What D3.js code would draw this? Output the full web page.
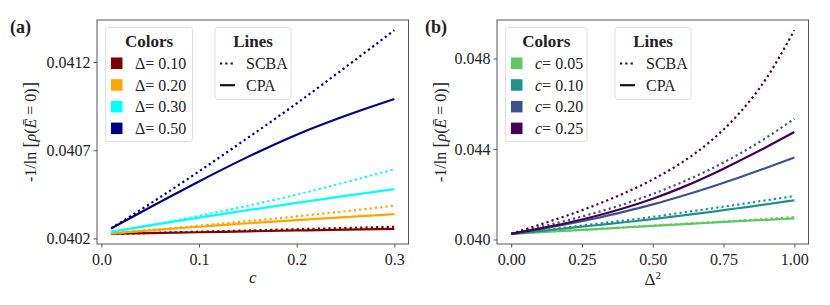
<!DOCTYPE html>
<html>
<head>
<meta charset="utf-8">
<script src="https://cdn.jsdelivr.net/npm/d3@7"></script>
<style>
  body { margin: 0; background: #fff; }
  svg text { font-family: "Liberation Serif", "Times New Roman", Times, "DejaVu Serif", serif; fill: #222; }
</style>
</head>
<body>
<script>
// ---- panel (a): y vs c, one colour per disorder strength
const cValues = [0.01, 0.05, 0.1, 0.15, 0.2, 0.25, 0.3];
const deltaLabels = ['0.10', '0.20', '0.30', '0.50'];
const deltaColors = ['#800000', '#ffa500', '#00ffff', '#000080'];
const scbaA = [
  [0.040226, 0.040231, 0.040238, 0.040245, 0.040252, 0.040259, 0.040266],
  [0.040228, 0.040248, 0.040272, 0.040298, 0.040325, 0.040354, 0.040385],
  [0.040237, 0.040275, 0.040328, 0.040385, 0.040448, 0.040518, 0.040592],
  [0.040257, 0.040397, 0.040580, 0.040770, 0.040965, 0.041170, 0.041380],
];
const cpaA = [
  [0.040226, 0.040230, 0.040235, 0.040240, 0.040245, 0.040250, 0.040254],
  [0.040228, 0.040246, 0.040266, 0.040286, 0.040304, 0.040321, 0.040338],
  [0.040237, 0.040274, 0.040318, 0.040360, 0.040401, 0.040441, 0.040479],
  [0.040257, 0.040377, 0.040523, 0.040662, 0.040788, 0.040895, 0.040990],
];
const xTicksA = [0.0, 0.1, 0.2, 0.3];
const yTicksA = [0.0402, 0.0407, 0.0412];

// ---- panel (b): y vs Delta^2, one colour per concentration
const d2Values = [0, 0.1, 0.2, 0.3, 0.4, 0.5, 0.6, 0.7, 0.8, 0.9, 1.0];
const cLabels = ['0.05', '0.10', '0.20', '0.25'];
const cColors = ['#5ec962', '#21918c', '#3b528b', '#440154'];
const scbaB = [
  [0.04025, 0.04032, 0.04039, 0.04046, 0.04054, 0.04061, 0.04069, 0.04076, 0.04083, 0.04091, 0.04099],
  [0.04025, 0.04039, 0.04054, 0.04069, 0.04084, 0.04100, 0.04118, 0.04136, 0.04154, 0.04173, 0.04192],
  [0.04025, 0.04054, 0.04085, 0.04119, 0.04157, 0.04201, 0.04251, 0.04308, 0.04374, 0.04449, 0.04534],
  [0.04025, 0.04065, 0.04107, 0.04153, 0.04205, 0.04265, 0.04338, 0.04430, 0.04550, 0.04710, 0.04925],
];
const cpaB = [
  [0.04025, 0.04032, 0.04039, 0.04046, 0.04053, 0.04060, 0.04067, 0.04074, 0.04081, 0.04087, 0.04093],
  [0.04025, 0.04037, 0.04050, 0.04063, 0.04076, 0.04090, 0.04105, 0.04121, 0.04138, 0.04155, 0.04173],
  [0.04025, 0.04046, 0.04069, 0.04094, 0.04123, 0.04155, 0.04191, 0.04230, 0.04272, 0.04316, 0.04362],
  [0.04025, 0.04048, 0.04074, 0.04104, 0.04139, 0.04180, 0.04228, 0.04283, 0.04344, 0.04408, 0.04475],
];
const xTicksB = [0, 0.25, 0.5, 0.75, 1.0];
const yTicksB = [0.040, 0.044, 0.048];

const W = 830, H = 305;
const LW = 2.2;
const DOTS = '2.2,3.1';

const svg = d3.select('body').append('svg').attr('width', W).attr('height', H);

// matplotlib-style 5% margins
const padded = (lo, hi) => {
  const m = (hi - lo) * 0.05;
  return [lo - m, hi + m];
};

const drawPanel = (cfg) => {
  const g = svg.append('g');
  const x = d3.scaleLinear().domain(padded(d3.min(cfg.xs), d3.max(cfg.xs))).range([cfg.left, cfg.right]);
  const all = cfg.scba.flat().concat(cfg.cpa.flat());
  const y = d3.scaleLinear().domain(padded(d3.min(all), d3.max(all))).range([cfg.bottom, cfg.top]);

  const line = (vals) => d3.line()
    .x((d, i) => x(cfg.xs[i]))
    .y((d) => y(d))
    .curve(d3.curveMonotoneX)(vals);

  // lines (low to high so the darker ones end up on top)
  cfg.colors.forEach((col, k) => {
    g.append('path').attr('d', line(cfg.cpa[k])).attr('fill', 'none')
      .attr('stroke', col).attr('stroke-width', LW);
    g.append('path').attr('d', line(cfg.scba[k])).attr('fill', 'none')
      .attr('stroke', col).attr('stroke-width', LW).attr('stroke-dasharray', DOTS);
  });

  // axes
  const xAxis = d3.axisBottom(x).tickValues(cfg.xTicks).tickFormat(cfg.xFmt).tickSize(3.5).tickPadding(3);
  const yAxis = d3.axisLeft(y).tickValues(cfg.yTicks).tickFormat(cfg.yFmt).tickSize(3.5).tickPadding(3);
  const ax = g.append('g').attr('transform', `translate(0,${cfg.bottom})`).call(xAxis);
  const ay = g.append('g').attr('transform', `translate(${cfg.left},0)`).call(yAxis);
  [ax, ay].forEach((a) => {
    a.select('.domain').remove();
    a.attr('font-family', null);
    a.selectAll('line').attr('stroke', '#444').attr('stroke-width', 0.9);
    a.selectAll('text').attr('font-size', 16).attr('fill', '#222');
  });
  ax.selectAll('text').attr('dy', '0.9em');

  g.append('rect').attr('x', cfg.left).attr('y', cfg.top)
    .attr('width', cfg.right - cfg.left).attr('height', cfg.bottom - cfg.top)
    .attr('fill', 'none').attr('stroke', '#555').attr('stroke-width', 1);

  // panel letter
  g.append('text').attr('x', cfg.letterX).attr('y', 33).attr('font-size', 18)
    .attr('font-weight', 'bold').text(cfg.letter);

  // y label
  const yl = g.append('text')
    .attr('transform', `translate(${cfg.ylabX},${(cfg.top + cfg.bottom) / 2}) rotate(-90)`)
    .attr('text-anchor', 'middle').attr('font-size', 16);
  yl.append('tspan').text('-1/ln ');
  yl.append('tspan').attr('font-size', 19).text('[');
  yl.append('tspan').attr('font-style', 'italic').text('ρ');
  yl.append('tspan').text('(');
  yl.append('tspan').attr('font-style', 'italic').text('Ē');
  yl.append('tspan').text(' = 0)');
  yl.append('tspan').attr('font-size', 19).text(']');

  // x label
  const xl = g.append('text').attr('x', (cfg.left + cfg.right) / 2).attr('y', cfg.xlabY)
    .attr('text-anchor', 'middle').attr('font-size', 17);
  cfg.xlab(xl);

  // colors legend
  const cl = g.append('g').attr('transform', `translate(${cfg.left + 8.5},27.5)`);
  cl.append('rect').attr('width', cfg.colW).attr('height', 114).attr('rx', 3)
    .attr('fill', 'rgba(255,255,255,0.85)').attr('stroke', '#d6d6d6').attr('stroke-width', 0.8);
  cl.append('text').attr('x', cfg.colW / 2).attr('y', 19.5).attr('text-anchor', 'middle')
    .attr('font-size', 17).attr('font-weight', 'bold').text('Colors');
  cfg.colors.forEach((col, k) => {
    const cy = 36 + k * 21.7;
    cl.append('rect').attr('x', 5.5).attr('y', cy - 6).attr('width', 11.5).attr('height', 11.5)
      .attr('fill', col);
    const t = cl.append('text').attr('x', 29.5).attr('y', cy + 5.5).attr('font-size', 16);
    cfg.entry(t, cfg.labels[k]);
  });

  // lines legend
  const ll = g.append('g').attr('transform', `translate(${cfg.left + cfg.linesOff},27.5)`);
  ll.append('rect').attr('width', 76).attr('height', 72).attr('rx', 3)
    .attr('fill', 'rgba(255,255,255,0.85)').attr('stroke', '#d6d6d6').attr('stroke-width', 0.8);
  ll.append('text').attr('x', 38).attr('y', 19.5).attr('text-anchor', 'middle')
    .attr('font-size', 17).attr('font-weight', 'bold').text('Lines');
  [['SCBA', DOTS], ['CPA', null]].forEach(([name, dash], k) => {
    const cy = 36 + k * 21.7;
    const l = ll.append('line').attr('x1', 5).attr('x2', 20).attr('y1', cy).attr('y2', cy)
      .attr('stroke', '#111').attr('stroke-width', LW);
    if (dash) l.attr('stroke-dasharray', dash);
    ll.append('text').attr('x', 31).attr('y', cy + 5.5).attr('font-size', 16).text(name);
  });
};

drawPanel({
  letter: '(a)', letterX: 10, ylabX: 36,
  left: 97, right: 408.5, top: 20, bottom: 244,
  xs: cValues, scba: scbaA, cpa: cpaA, colors: deltaColors, labels: deltaLabels,
  xTicks: xTicksA, yTicks: yTicksA,
  xFmt: d3.format('.1f'), yFmt: d3.format('.4f'),
  xlabY: 283,
  xlab: (t) => t.append('tspan').attr('font-style', 'italic').text('c'),
  colW: 87, linesOff: 118,
  entry: (t, v) => t.text('Δ= ' + v),
});

drawPanel({
  letter: '(b)', letterX: 425, ylabX: 446,
  left: 497, right: 808.5, top: 20, bottom: 244,
  xs: d2Values, scba: scbaB, cpa: cpaB, colors: cColors, labels: cLabels,
  xTicks: xTicksB, yTicks: yTicksB,
  xFmt: d3.format('.2f'), yFmt: d3.format('.3f'),
  xlabY: 285,
  xlab: (t) => {
    t.append('tspan').text('Δ');
    t.append('tspan').attr('font-size', 11).attr('dy', -6).text('2');
  },
  colW: 81.5, linesOff: 118,
  entry: (t, v) => {
    t.append('tspan').attr('font-style', 'italic').text('c');
    t.append('tspan').text('= ' + v);
  },
});
</script>
</body>
</html>
